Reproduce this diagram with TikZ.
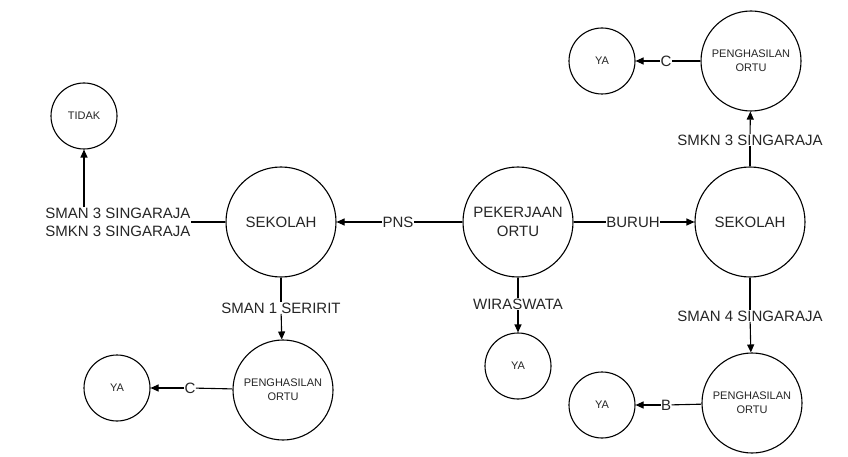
\documentclass[tikz,border=0pt]{standalone}
\usepackage{fontspec}
\setmainfont{Liberation Sans}
\usetikzlibrary{arrows.meta}
\begin{document}
\begin{tikzpicture}[x=1pt,y=-1pt,
 circ/.style={circle,draw,line width=1.1pt,minimum size=#1,inner sep=0pt,align=center,text=black!85},
 big/.style={circ=110pt,font=\fontsize{15}{19}\selectfont},
 mid/.style={circ=100pt,font=\fontsize{11}{14}\selectfont},
 tiny/.style={circ=66pt,font=\fontsize{11}{13}\selectfont},
 lbl/.style={inner sep=0.3pt,font=\fontsize{15}{18}\selectfont,align=center,text=black!85},
 conn/.style={line width=1.1pt},
 arr/.style={conn,-{Triangle[length=8pt,width=7pt]}}]
\useasboundingbox[fill=white] (0,0) rectangle (848,457);

% circles
\node[big] (pek) at (518,222) {PEKERJAAN\\ORTU};
\node[big] (sekL) at (281,222) {SEKOLAH};
\node[big] (sekR) at (750,222) {SEKOLAH};
\node[tiny] (tidak) at (84,116) {TIDAK};
\node[tiny] (yaW) at (518,366) {YA};
\node[mid] (penT) at (751,61) {PENGHASILAN\\ORTU};
\node[tiny] (yaT) at (602,61) {YA};
\node[mid] (penB) at (752,403) {PENGHASILAN\\ORTU};
\node[tiny] (yaB) at (602,405) {YA};
\node[mid] (penL) at (283,390) {PENGHASILAN\\ORTU};
\node[tiny] (yaL) at (117,388) {YA};

% labels
\node[lbl] (pns) at (398,222) {PNS};
\node[lbl] (buruh) at (633,222) {BURUH};
\node[lbl] (wira) at (518,304) {WIRASWATA};
\node[lbl] (sma3) at (118,222) {SMAN 3 SINGARAJA\\SMKN 3 SINGARAJA};
\node[lbl] (seririt) at (281,308) {SMAN 1 SERIRIT};
\node[lbl] (smk3) at (750,140) {SMKN 3 SINGARAJA};
\node[lbl] (sma4) at (750,316) {SMAN 4 SINGARAJA};
\node[lbl] (cT) at (666,61) {C};
\node[lbl] (bB) at (666,405) {B};
\node[lbl] (cL) at (190,388) {C};

% connectors
\draw[conn] (pek) -- (pns);
\draw[arr] (pns) -- (sekL);
\draw[conn] (pek) -- (buruh);
\draw[arr] (buruh) -- (sekR);
\draw[conn] (pek) -- (wira);
\draw[arr] (wira) -- (yaW);

\draw[conn] (sekL) -- (sma3.east |- sekL);
\draw[arr] (sma3.north -| tidak) -- (tidak);
\draw[conn] (sekL) -- (seririt);
\draw[arr] (seririt) -- (penL);
\draw[conn] (penL) -- (cL);
\draw[arr] (cL) -- (yaL);

\draw[conn] (sekR) -- (smk3);
\draw[arr] (smk3) -- (penT);
\draw[conn] (penT) -- (cT);
\draw[arr] (cT) -- (yaT);
\draw[conn] (sekR) -- (sma4);
\draw[arr] (sma4) -- (penB);
\draw[conn] (penB) -- (bB);
\draw[arr] (bB) -- (yaB);
\end{tikzpicture}
\end{document}
